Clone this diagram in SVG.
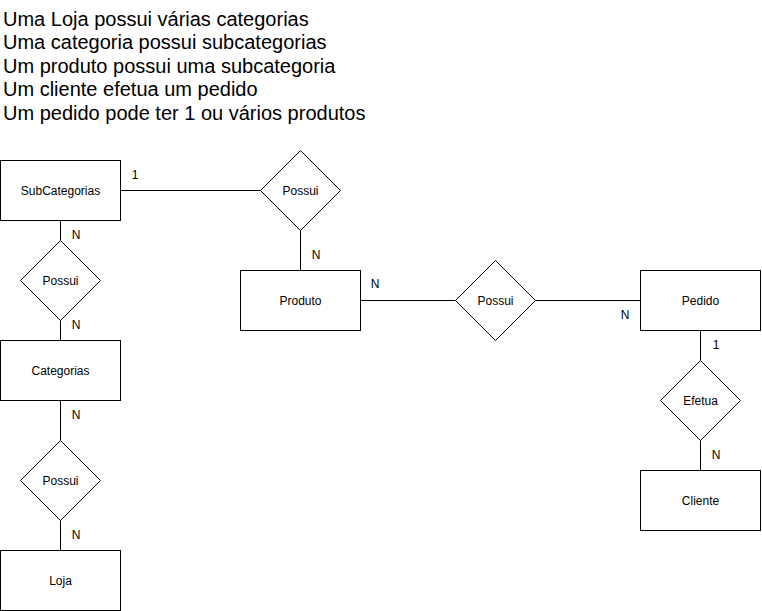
<svg xmlns="http://www.w3.org/2000/svg" width="762" height="611" viewBox="0 0 762 611">
<style>
.ent{fill:#fff;stroke:#000;stroke-width:1}
.rel{fill:#fff;stroke:#000;stroke-width:1}
.lbl{font-family:"Liberation Sans",Arial,sans-serif;font-size:12px;fill:#000;text-anchor:middle;dominant-baseline:central}
.card{font-family:"Liberation Sans",Arial,sans-serif;font-size:12px;fill:#000;text-anchor:middle;dominant-baseline:central}
.title{font-family:"Liberation Sans",Arial,sans-serif;font-size:20px;fill:#000}
.con{stroke:#000;stroke-width:1;fill:none}
</style>
<rect width="762" height="611" fill="#fff"/>
<g id="title">
<text class="title" x="3" y="25.5">Uma Loja possui várias categorias</text>
<text class="title" x="3" y="49">Uma categoria possui subcategorias</text>
<text class="title" x="3" y="72.5">Um produto possui uma subcategoria</text>
<text class="title" x="3" y="96">Um cliente efetua um pedido</text>
<text class="title" x="3" y="119.5">Um pedido pode ter 1 ou vários produtos</text>
</g>
<g id="connectors">
<path class="con" d="M120.5 190.5H260.5"/>
<path class="con" d="M300.5 230.5V270.5"/>
<path class="con" d="M60.5 220.5V240.5"/>
<path class="con" d="M60.5 320.5V340.5"/>
<path class="con" d="M60.5 400.5V440.5"/>
<path class="con" d="M60.5 520.5V550.5"/>
<path class="con" d="M360.5 300.5H455.5"/>
<path class="con" d="M535.5 300.5H640.5"/>
<path class="con" d="M700.5 330.5V360.5"/>
<path class="con" d="M700.5 440.5V470.5"/>
<text class="card" x="135" y="175">1</text>
<text class="card" x="76" y="235">N</text>
<text class="card" x="76" y="325">N</text>
<text class="card" x="76" y="415">N</text>
<text class="card" x="76" y="535">N</text>
<text class="card" x="316" y="255">N</text>
<text class="card" x="375" y="284">N</text>
<text class="card" x="625" y="315">N</text>
<text class="card" x="716" y="345">1</text>
<text class="card" x="716" y="455">N</text>
</g>
<g id="subcategorias"><rect class="ent" x="0.5" y="160.5" width="120" height="60"/><text class="lbl" x="60.5" y="190.5">SubCategorias</text></g>
<g id="possui1"><polygon class="rel" points="300.5,150.5 340.5,190.5 300.5,230.5 260.5,190.5"/><text class="lbl" x="300.5" y="190.5">Possui</text></g>
<g id="possui2"><polygon class="rel" points="60.5,240.5 100.5,280.5 60.5,320.5 20.5,280.5"/><text class="lbl" x="60.5" y="280.5">Possui</text></g>
<g id="categorias"><rect class="ent" x="0.5" y="340.5" width="120" height="60"/><text class="lbl" x="60.5" y="370.5">Categorias</text></g>
<g id="possui3"><polygon class="rel" points="60.5,440.5 100.5,480.5 60.5,520.5 20.5,480.5"/><text class="lbl" x="60.5" y="480.5">Possui</text></g>
<g id="loja"><rect class="ent" x="0.5" y="550.5" width="120" height="60"/><text class="lbl" x="60.5" y="580.5">Loja</text></g>
<g id="produto"><rect class="ent" x="240.5" y="270.5" width="120" height="60"/><text class="lbl" x="300.5" y="300.5">Produto</text></g>
<g id="possui4"><polygon class="rel" points="495.5,260.5 535.5,300.5 495.5,340.5 455.5,300.5"/><text class="lbl" x="495.5" y="300.5">Possui</text></g>
<g id="pedido"><rect class="ent" x="640.5" y="270.5" width="120" height="60"/><text class="lbl" x="700.5" y="300.5">Pedido</text></g>
<g id="efetua"><polygon class="rel" points="700.5,360.5 740.5,400.5 700.5,440.5 660.5,400.5"/><text class="lbl" x="700.5" y="400.5">Efetua</text></g>
<g id="cliente"><rect class="ent" x="640.5" y="470.5" width="120" height="60"/><text class="lbl" x="700.5" y="500.5">Cliente</text></g>
</svg>
